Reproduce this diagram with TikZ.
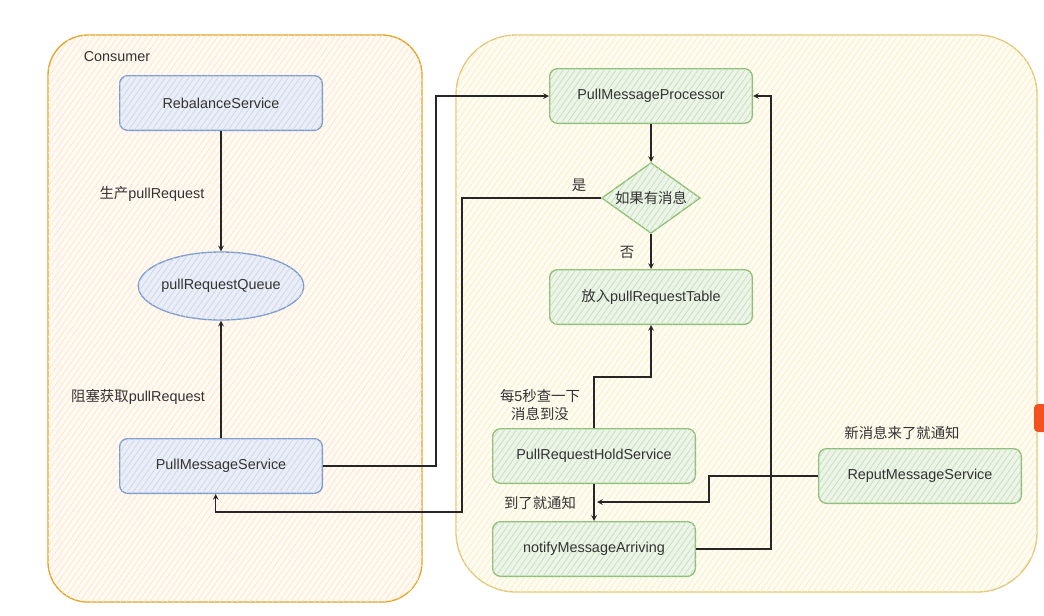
\documentclass[tikz,border=0pt]{standalone}
\usepackage{fontspec}
\setmainfont{Liberation Sans}
\newfontfamily\cjk{Noto Sans CJK SC}
\usepackage{tikz}
\usepackage{xcolor}
\usetikzlibrary{shapes.geometric,patterns.meta}
\definecolor{conFill}{HTML}{FFFAF4}
\definecolor{conHatch}{HTML}{FFE3C6}
\definecolor{conLine}{HTML}{E0A526}
\definecolor{brkFill}{HTML}{FFFDF3}
\definecolor{brkHatch}{HTML}{FBECC0}
\definecolor{brkLine}{HTML}{E2C77A}
\definecolor{blueFill}{HTML}{EBEEF6}
\definecolor{blueHatch}{HTML}{C8D6EE}
\definecolor{blueLine}{HTML}{7E9CCC}
\definecolor{greenFill}{HTML}{EDF4E8}
\definecolor{greenHatch}{HTML}{C6DEBE}
\definecolor{greenLine}{HTML}{8DBF78}
\definecolor{markRed}{HTML}{F4511E}
\tikzstyle{hatch} = [postaction={pattern={Lines[angle=55,distance=3.6pt,line width=0.55pt]}, pattern color=#1}]
\tikzstyle{consumer} = [draw=conLine, line width=1pt, rounded corners=30pt, fill=conFill, hatch=conHatch]
\tikzstyle{broker} = [draw=brkLine, line width=1pt, rounded corners=45pt, fill=brkFill, hatch=brkHatch]
\tikzstyle{svc} = [rectangle, rounded corners=6pt, draw=blueLine, line width=1pt, fill=blueFill, hatch=blueHatch, minimum width=152pt, minimum height=41pt]
\tikzstyle{proc} = [rectangle, rounded corners=6pt, draw=greenLine, line width=1pt, fill=greenFill, hatch=greenHatch, minimum width=152pt, minimum height=41pt]
\tikzstyle{queue} = [ellipse, inner xsep=-3pt, inner ysep=0pt, draw=blueLine, line width=1pt, fill=blueFill, hatch=blueHatch, minimum width=124pt, minimum height=51pt]
\tikzstyle{check} = [diamond, aspect=1.4, inner sep=0pt, draw=greenLine, line width=1pt, fill=greenFill, hatch=greenHatch, minimum width=74pt, minimum height=53pt]
\tikzstyle{note} = [inner sep=0pt]
\tikzstyle{link} = [->, >=stealth, line width=0.9pt, draw=black!85]

\begin{document}
\begin{tikzpicture}[x=0.75pt,y=-0.75pt,font=\fontsize{10.8}{13.5}\selectfont,text=black!80]
  \useasboundingbox (0,0) rectangle (1044,615);
  % containers
  \draw[consumer] (48,35) rectangle (422,602);
  \draw[broker] (456,35) rectangle (1037,592);
  \fill[markRed, rounded corners=3pt] (1034,404) rectangle (1052,432);

  \node[svc] (Rebalance) at (221,103) {RebalanceService};
  \node[queue] (Queue) at (221,286) {pullRequestQueue};
  \node[svc] (PullSvc) at (221,466) {PullMessageService};
  \node[proc] (Processor) at (651,96) {PullMessageProcessor};
  \node[check] (HasMsg) at (651,198) {\cjk 如果有消息};
  \node[proc] (Table) at (651,297) {{\cjk 放入}pullRequestTable};
  \node[proc] (Hold) at (594,456) {PullRequestHoldService};
  \node[proc] (Notify) at (594,549) {notifyMessageArriving};
  \node[proc] (Reput) at (920,476) {ReputMessageService};

  \node[note] (lblConsumer) at (117,57) {Consumer};
  \node[note] (lblProduce) at (152,194) {{\cjk 生产}pullRequest};
  \node[note] (lblBlock) at (138,397) {{\cjk 阻塞获取}pullRequest};
  \node[note] (lblYes) at (579,185) {\cjk 是};
  \node[note] (lblNo) at (627,252) {\cjk 否};
  \node[note, align=center] (lblPoll) at (540,405) {{\cjk 每}5{\cjk 秒查一下}\\{\cjk 消息到没}};
  \node[note] (lblArrive) at (540,503) {\cjk 到了就通知};
  \node[note] (lblNew) at (902,433) {\cjk 新消息来了就通知};

  \coordinate (arrive) at (597,502);

  \draw[link] (Rebalance) -- (Queue);
  \draw[link] (PullSvc) -- (Queue);
  \draw[link] (PullSvc.east) -- (436,466) |- (Processor.west);
  \draw[link] (Processor) -- (HasMsg);
  \draw[link] (HasMsg) -- (Table);
  \draw[link] (HasMsg.west) -- (462,198) -- (462,512) -| ([xshift=-4pt]PullSvc.south);
  \draw[link] (Hold.north) -- (594,377) -| (Table.south);
  \draw[link] (Hold) -- (Notify);
  \draw[link] (Reput.west) -- (709,476) |- (arrive);
  \draw[link] (Notify.east) -- (771,549) |- (Processor.east);
\end{tikzpicture}
\end{document}
